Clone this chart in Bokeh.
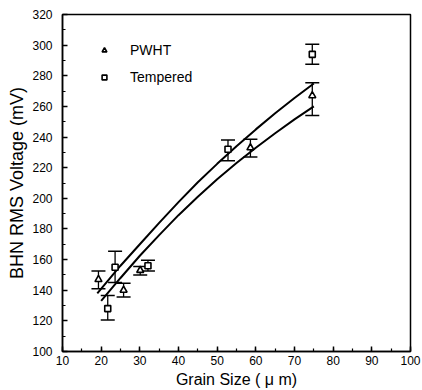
from bokeh.plotting import figure
from bokeh.models import (ColumnDataSource, Whisker, TeeHead, Legend, LegendItem,
                          SingleIntervalTicker, Range1d)
from bokeh.embed import file_html
from bokeh.resources import INLINE

# ---- data ----
pwht_x = [19.3, 25.8, 30.1, 58.6, 74.6]
pwht_y = [147, 140, 153, 233, 267]
pwht_lo = [141, 135.5, 150, 227, 254]
pwht_hi = [152.5, 144.5, 155.5, 238.5, 275.5]

temp_x = [21.7, 23.6, 32.1, 52.8, 74.6]
temp_y = [128, 155, 156, 232, 294]
temp_lo = [120.5, 145, 152.5, 224.5, 287.5]
temp_hi = [136.5, 165.5, 159.5, 238, 300.5]

fit_upper_x = [19, 25, 30, 35, 40, 45, 50, 55, 60, 65, 70, 75]
fit_upper_y = [138, 156, 170, 184, 197.5, 210.5, 222.5, 234, 245, 255.5, 265.5, 275]
fit_lower_x = [20, 25, 30, 35, 40, 45, 50, 55, 60, 65, 70, 75]
fit_lower_y = [133, 148, 162.5, 176, 189, 201, 212.5, 223, 233, 242.5, 251.5, 260]

FONT = "Liberation Sans"

p = figure(width=422, height=390, output_backend="svg", toolbar_location=None,
           x_range=Range1d(10, 100), y_range=Range1d(100, 320),
           min_border_left=62, min_border_right=12, min_border_top=14, min_border_bottom=38)

p.grid.visible = False
p.outline_line_color = "black"
p.outline_line_width = 1.5
p.background_fill_color = "white"
p.border_fill_color = "white"

p.xaxis.ticker = SingleIntervalTicker(interval=10, num_minor_ticks=2)
p.yaxis.ticker = SingleIntervalTicker(interval=20, num_minor_ticks=2)

for ax in (p.xaxis, p.yaxis):
    ax.major_tick_in = 5
    ax.major_tick_out = 0
    ax.minor_tick_in = 3
    ax.minor_tick_out = 0
    ax.major_tick_line_width = 1.5
    ax.minor_tick_line_width = 1.2
    ax.axis_line_width = 1.5
    ax.major_tick_line_color = "black"
    ax.minor_tick_line_color = "black"
    ax.axis_line_color = "black"
    ax.major_label_text_font = FONT
    ax.major_label_text_font_size = "12px"
    ax.major_label_text_color = "black"
    ax.axis_label_text_font = FONT
    ax.axis_label_text_font_style = "normal"
    ax.axis_label_text_color = "black"

p.xaxis.axis_label = "Grain Size ( μ m)"
p.yaxis.axis_label = "BHN RMS Voltage (mV)"
p.xaxis.axis_label_text_font_size = "16px"
p.yaxis.axis_label_text_font_size = "18px"
p.xaxis.major_label_standoff = 4
p.yaxis.major_label_standoff = 10
p.xaxis.axis_label_standoff = 3
p.yaxis.axis_label_standoff = 2

# fitted curves
p.line(fit_upper_x, fit_upper_y, line_color="black", line_width=2)
p.line(fit_lower_x, fit_lower_y, line_color="black", line_width=2)

# error bars
src_p = ColumnDataSource(dict(x=pwht_x, y=pwht_y, lo=pwht_lo, hi=pwht_hi))
src_t = ColumnDataSource(dict(x=temp_x, y=temp_y, lo=temp_lo, hi=temp_hi))
for src in (src_p, src_t):
    w = Whisker(base="x", lower="lo", upper="hi", source=src,
                line_color="black", line_width=1.3,
                upper_head=TeeHead(size=14, line_width=1.5, line_color="black"),
                lower_head=TeeHead(size=14, line_width=1.5, line_color="black"))
    p.add_layout(w)

tri = p.scatter("x", "y", source=src_p, marker="triangle", size=7,
                fill_color="white", line_color="black", line_width=1.6)
sq = p.scatter("x", "y", source=src_t, marker="square", size=6,
               fill_color="white", line_color="black", line_width=1.6)

legend = Legend(items=[LegendItem(label="PWHT", renderers=[tri]),
                       LegendItem(label="Tempered", renderers=[sq])],
                location=(36, 264), padding=0, margin=0, spacing=7,
                glyph_width=12, glyph_height=20, label_height=20,
                label_standoff=20, border_line_color=None,
                background_fill_alpha=0,
                label_text_font=FONT, label_text_font_size="14px",
                label_text_color="black")
p.add_layout(legend, "center")

open("out.html", "w").write(file_html(p, INLINE))
